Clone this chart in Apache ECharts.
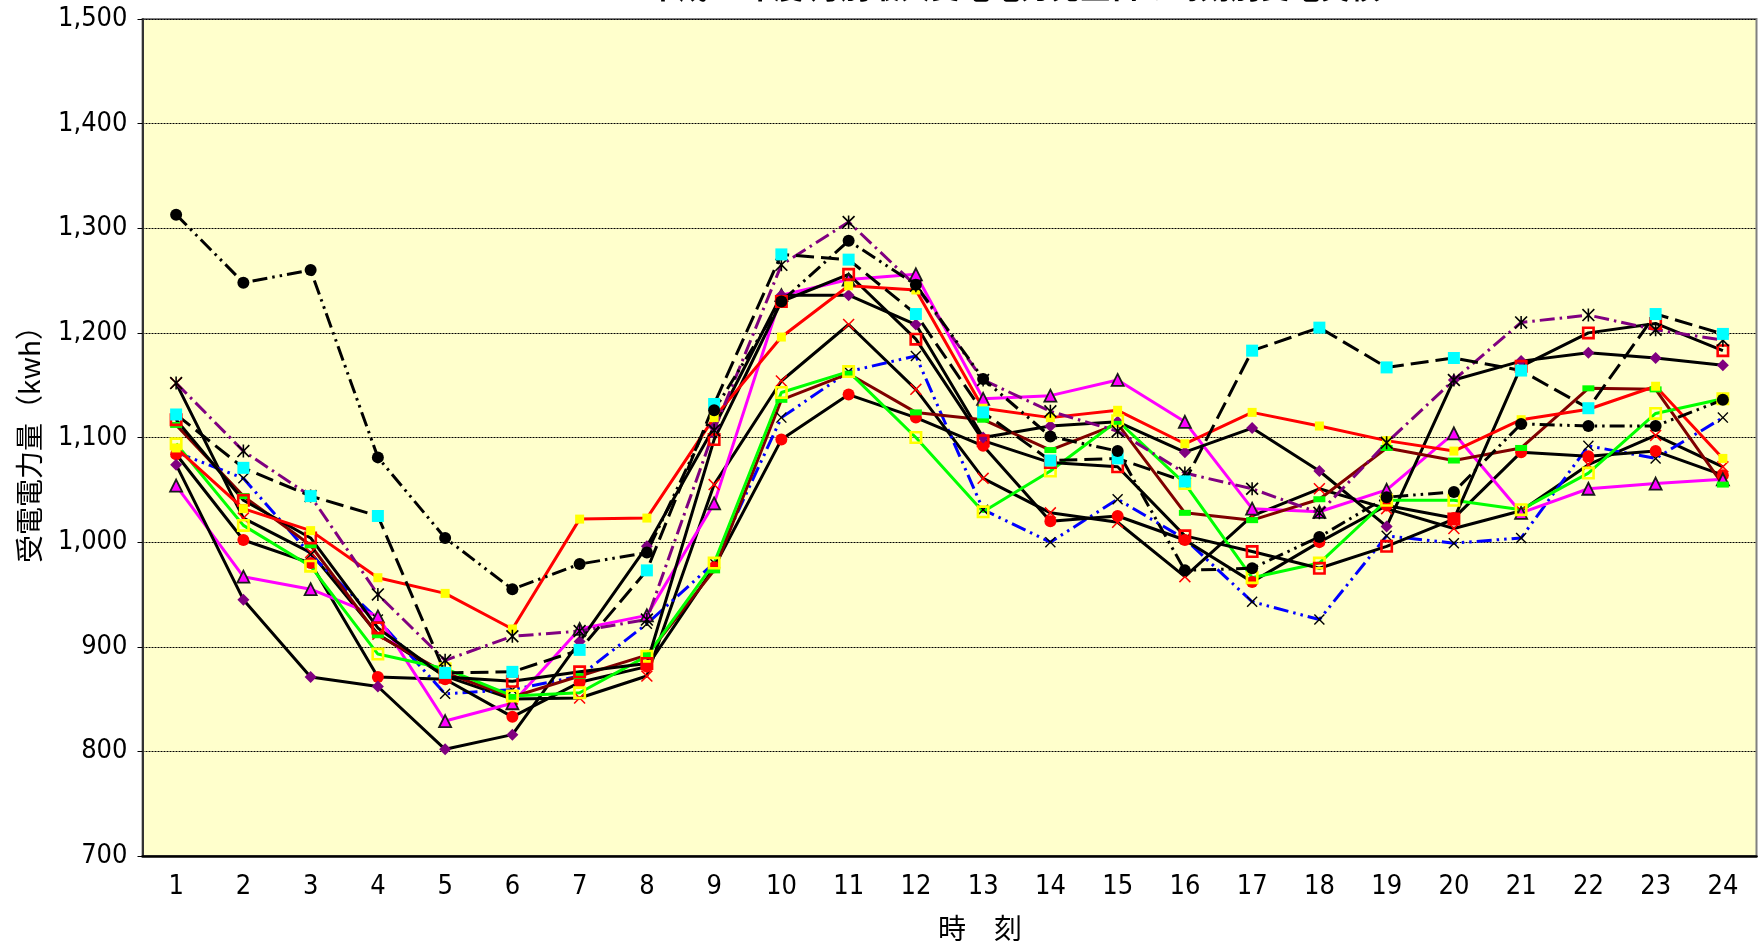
<!DOCTYPE html>
<html>
<head>
<meta charset="utf-8">
<title>時刻別受電電力量</title>
<script src="https://cdn.jsdelivr.net/npm/echarts@6/dist/echarts.min.js"></script>
<style>
  html, body { margin: 0; padding: 0; background: #fff; }
  #chart { width: 1760px; height: 950px; }
</style>
</head>
<body>
<div id="chart"></div>
<script>
// 時刻 (x軸カテゴリ)
const hours = ['1','2','3','4','5','6','7','8','9','10','11','12','13','14','15','16','17','18','19','20','21','22','23','24'];
const yTicks = [700, 800, 900, 1000, 1100, 1200, 1300, 1400, 1500];

// 各系列の受電電力量 (kwh)
const blackCircle  = [1313,1248,1260,1081,1004,955,979,990,1126,1230,1288,1246,1156,1101,1087,973,975,1005,1043,1048,1113,1111,1111,1136];
const cyanSquare   = [1122,1071,1044,1025,875,876,897,973,1132,1275,1270,1218,1124,1078,1080,1058,1183,1205,1167,1176,1164,1128,1218,1199];
const redYellow    = [1090,1032,1011,966,951,917,1022,1023,1119,1196,1245,1241,1128,1119,1126,1094,1124,1111,1097,1087,1117,1127,1149,1080];
const purpleStar   = [1152,1087,1044,950,887,910,915,926,1107,1265,1306,1245,1155,1125,1106,1066,1051,1028,1095,1155,1210,1217,1203,1193];
const magentaTri   = [1054,967,955,929,829,846,917,930,1037,1236,1251,1256,1137,1140,1155,1115,1032,1029,1050,1104,1028,1051,1056,1060];
const blackDiamond = [1074,945,871,862,802,816,905,996,1110,1236,1236,1208,1100,1111,1115,1086,1109,1068,1015,1155,1173,1181,1176,1169];
const redCircle    = [1084,1002,980,871,869,833,866,881,976,1098,1141,1119,1092,1020,1025,1002,962,1000,1035,1023,1086,1082,1087,1064];
const greenOpenSq  = [1094,1016,977,893,879,853,856,891,980,1143,1163,1100,1029,1068,1116,1056,966,980,1040,1040,1031,1066,1123,1137];
const maroonDash   = [1112,1044,997,911,875,852,872,892,973,1136,1161,1124,1117,1088,1113,1028,1021,1041,1090,1078,1090,1147,1146,1055];
const redOpenSq    = [1117,1040,1004,918,871,867,876,884,1098,1230,1256,1194,1097,1076,1072,1006,991,975,996,1022,1168,1200,1209,1183];
const redCross     = [1152,1023,990,912,872,850,851,872,1055,1154,1208,1146,1061,1028,1019,967,1025,1051,1032,1013,1030,1074,1102,1072];
const blueCross    = [1086,1061,988,926,855,859,872,922,980,1119,1163,1178,1031,1000,1041,1003,943,926,1006,999,1004,1092,1080,1119];

// マーカー形状
const X_PATH = 'path://M0,1.8L1.8,0L10,8.2L18.2,0L20,1.8L11.8,10L20,18.2L18.2,20L10,11.8L1.8,20L0,18.2L8.2,10Z';
const STAR_PATH = X_PATH + ' M8.8,0L11.2,0L11.2,20L8.8,20Z';
const OPEN_SQ = 'path://M0,0H20V20H0Z M4,4V16H16V4Z';

const DASH_DOT_DOT = [15, 5, 2.5, 5, 2.5, 5];
const DASH_DOT = [15, 5, 2.5, 5];
const LONG_DASH = [18, 7];

const styles = [
  { data: redCross,     line: '#000000', type: 'solid',      symbol: X_PATH,     size: 12, fill: '#ff0000' },
  { data: blueCross,    line: '#0000ff', type: DASH_DOT_DOT, symbol: X_PATH,     size: 11, fill: '#000000' },
  { data: redCircle,    line: '#000000', type: 'solid',      symbol: 'circle',   size: 12, fill: '#ff0000' },
  { data: magentaTri,   line: '#ff00ff', type: 'solid',      symbol: 'triangle', size: 12, fill: '#ff00ff', border: '#1a1a1a' },
  { data: blackDiamond, line: '#000000', type: 'solid',      symbol: 'diamond',  size: 12, fill: '#800080' },
  { data: maroonDash,   line: '#800000', type: 'solid',      symbol: 'rect',     size: [12, 6], fill: '#00ff00' },
  { data: greenOpenSq,  line: '#00ff00', type: 'solid',      symbol: OPEN_SQ,    size: 13, fill: '#ffff00' },
  { data: redOpenSq,    line: '#000000', type: 'solid',      symbol: OPEN_SQ,    size: 13, fill: '#ff0000' },
  { data: redYellow,    line: '#ff0000', type: 'solid',      symbol: 'rect',     size: 9,  fill: '#ffff00' },
  { data: purpleStar,   line: '#800080', type: DASH_DOT,     symbol: STAR_PATH,  size: 13, fill: '#000000' },
  { data: cyanSquare,   line: '#000000', type: LONG_DASH,    symbol: 'rect',     size: 12, fill: '#00ffff' },
  { data: blackCircle,  line: '#000000', type: DASH_DOT_DOT, symbol: 'circle',   size: 12, fill: '#000000' }
];

const chart = echarts.init(document.getElementById('chart'));

const labelFont = '"Liberation Sans Narrow", "DejaVu Sans Condensed", "Noto Sans CJK JP", sans-serif';
const cjkFont = '"Noto Sans CJK JP", sans-serif';

const option = {
  animation: false,
  backgroundColor: '#ffffff',
  graphic: [
    {
      type: 'text',
      left: 648,
      top: -28,
      style: {
        text: '平成20年度 月別最大受電電力発生日の時刻別受電実績',
        font: 'bold 30px "Noto Sans CJK JP"',
        fill: '#000000'
      }
    }
  ],
  grid: {
    left: 142.5,
    right: 3.5,
    top: 19,
    bottom: 94,
    show: true,
    backgroundColor: '#ffffcc',
    borderColor: '#808080',
    borderWidth: 2
  },
  xAxis: {
    type: 'category',
    data: hours,
    boundaryGap: true,
    name: '時　刻',
    nameLocation: 'middle',
    nameGap: 58,
    nameTextStyle: { fontFamily: cjkFont, fontSize: 28, color: '#000', padding: [0, 0, 0, 61] },
    axisLine: { lineStyle: { color: '#000', width: 2.5 } },
    axisTick: { inside: true, length: 6, lineStyle: { color: '#000', width: 1 } },
    axisLabel: { margin: 17, fontFamily: labelFont, fontSize: 27, color: '#000' },
    splitLine: { show: false }
  },
  yAxis: {
    type: 'value',
    min: yTicks[0],
    max: yTicks[yTicks.length - 1],
    interval: 100,
    name: '受電電力量（kwh）',
    nameLocation: 'middle',
    nameGap: 99,
    nameRotate: 90,
    nameTextStyle: { fontFamily: cjkFont, fontSize: 28, color: '#000' },
    axisLine: { show: true, lineStyle: { color: '#333', width: 2 } },
    axisTick: { show: true, inside: false, length: 5, lineStyle: { color: '#000' } },
    axisLabel: {
      margin: 15,
      fontFamily: labelFont,
      fontSize: 27,
      color: '#000',
      formatter: v => v.toLocaleString('en-US')
    },
    splitLine: { lineStyle: { color: '#000', type: [2, 1], width: 1 } }
  },
  series: styles.map(s => ({
    type: 'line',
    data: s.data,
    symbol: s.symbol,
    symbolSize: s.size,
    showSymbol: true,
    lineStyle: { color: s.line, width: 3, type: s.type },
    itemStyle: {
      color: s.fill,
      borderColor: s.border || s.fill,
      borderWidth: s.border ? 1.8 : 0,
      opacity: 1
    },
    emphasis: { disabled: true }
  }))
};

chart.setOption(option);
</script>
</body>
</html>
